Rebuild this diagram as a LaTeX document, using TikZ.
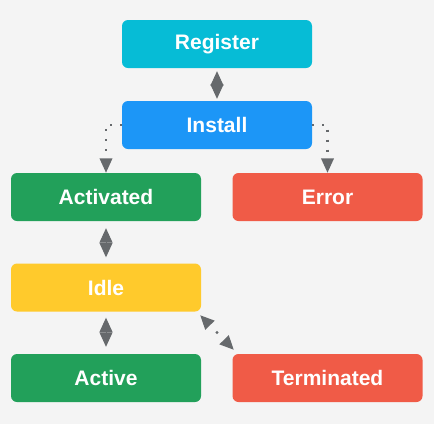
\documentclass[tikz,border=0pt]{standalone}
\usepackage{fontspec}
\setmainfont{Liberation Sans}
\usetikzlibrary{arrows.meta,calc}
\definecolor{bgc}{HTML}{F4F4F4}
\definecolor{regc}{HTML}{06BCD6}
\definecolor{insc}{HTML}{1C96F7}
\definecolor{grnc}{HTML}{22A05A}
\definecolor{redc}{HTML}{F05B47}
\definecolor{yelc}{HTML}{FFCA2C}
\definecolor{arrc}{HTML}{66696C}
\tikzset{
  state/.style={fill=#1, draw=none, rounded corners=6pt, minimum width=190pt, minimum height=48pt,
    inner sep=0pt, text=white, font=\fontsize{21}{24}\selectfont\bfseries},
  dia/.style={draw=arrc, line width=1pt, {Triangle[length=14.5pt,width=13pt]}-{Triangle[length=14.5pt,width=13pt]}},
  dotline/.style={draw=arrc, line width=2.2pt, dash pattern=on 2.2pt off 7.8pt, -{Triangle[length=14.5pt,width=12.5pt]}},
  dotboth/.style={draw=arrc, line width=2.4pt, dash pattern=on 0pt off 9.5pt on 2.4pt off 30pt,
    {Triangle[length=14pt,width=12.5pt]}-{Triangle[length=14pt,width=12.5pt]}}
}
\begin{document}
\begin{tikzpicture}[x=1pt,y=-1pt]
\fill[bgc] (0,0) rectangle (434,424);
\useasboundingbox (0,0) rectangle (434,424);
\node[state=regc] (reg) at (217,44) {Register};
\node[state=insc] (ins) at (217,125) {Install};
\node[state=grnc] (act) at (106,197) {Activated};
\node[state=redc] (err) at (327.5,197) {Error};
\node[state=yelc] (idle) at (106,287.5) {Idle};
\node[state=grnc] (actv) at (106,378) {Active};
\node[state=redc] (term) at (327.5,378) {Terminated};
\draw[dia, shorten <=3pt, shorten >=2pt] (reg.south) -- (ins.north);
\draw[dia, shorten <=7pt, shorten >=6pt] (act.south) -- (idle.north);
\draw[dia, shorten <=6pt, shorten >=7pt] (idle.south) -- (actv.north);
\draw[dotline] (ins.west) -| (act.north);
\draw[dotline] (ins.east) -| (err.north);
\draw[dotboth] ($(idle.south east)+(-1,3.5)$) -- ($(term.north west)+(1.5,-4)$);
\end{tikzpicture}
\end{document}
